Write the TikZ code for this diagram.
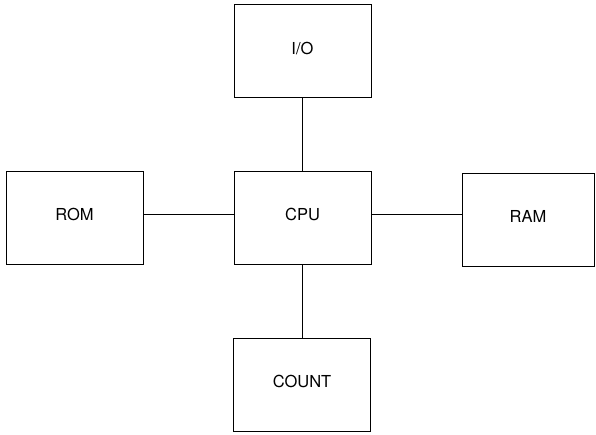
\documentclass[tikz,border=0pt]{standalone}
\usepackage{fontspec}
\setmainfont{TeX Gyre Heros}
\begin{document}
\begin{tikzpicture}[x=1pt,y=-1pt,
  unit/.style={draw, line width=0.9pt, minimum width=137pt, minimum height=93pt,
    inner sep=0pt, text depth=6pt, font=\fontsize{16.5}{18}\selectfont},
  link/.style={line width=0.9pt}]
  \useasboundingbox (0,0) rectangle (596,434);
  % processor in the middle, peripherals around it
  \node[unit] (cpu)   at (302.5,217.5) {CPU};
  \node[unit] (io)    at (302.5,51)    {I/O};
  \node[unit] (rom)   at (74.5,217.5)  {ROM};
  \node[unit, minimum width=132pt] (ram) at (528,219.5) {RAM};
  \node[unit] (count) at (302,384.5)   {COUNT};
  % bus connections
  \draw[link] (io.south -| cpu.north) -- (cpu.north);
  \draw[link] (cpu.south) -- (count.north -| cpu.south);
  \draw[link] (rom.east |- 0,214) -- (cpu.west |- 0,214);
  \draw[link] (cpu.east |- 0,214) -- (ram.west |- 0,214);
\end{tikzpicture}
\end{document}
